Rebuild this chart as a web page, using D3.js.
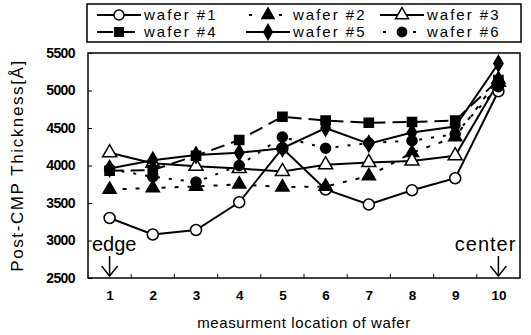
<!DOCTYPE html>
<html>
<head>
<meta charset="utf-8">
<script src="https://cdn.jsdelivr.net/npm/d3@7"></script>
<style>
  body { margin: 0; background: #fff; }
  svg { display: block; font-family: "Liberation Sans", Arial, sans-serif; }
</style>
</head>
<body>
<div id="chart"></div>
<script>
const locations = [1, 2, 3, 4, 5, 6, 7, 8, 9, 10];
const yTicks = [2500, 3000, 3500, 4000, 4500, 5000, 5500];

const wafer1 = [3300, 3080, 3140, 3510, 4230, 3680, 3480, 3670, 3830, 4990];
const wafer2 = [3680, 3700, 3720, 3750, 3710, 3720, 3860, 4170, 4380, 5150];
const wafer3 = [4170, 4030, 3990, 3960, 3920, 4010, 4040, 4060, 4130, 5110];
const wafer4 = [3930, 3940, 4130, 4340, 4650, 4600, 4570, 4580, 4600, 5140];
const wafer5 = [3960, 4070, 4140, 4170, 4230, 4500, 4290, 4440, 4520, 5360];
const wafer6 = [3950, 3850, 3780, 4000, 4380, 4230, 4300, 4330, 4420, 5050];
const seriesNames = ['wafer #1', 'wafer #2', 'wafer #3', 'wafer #4', 'wafer #5', 'wafer #6'];

const width = 531, height = 335;
const margin = {left: 88, right: 11, top: 53, bottom: 57};

const svg = d3.select('#chart').append('svg')
    .attr('width', width)
    .attr('height', height);

const x = d3.scaleLinear().domain([0.5, 10.5]).range([margin.left, width - margin.right]);
const y = d3.scaleLinear().domain([2500, 5500]).range([height - margin.bottom, margin.top]);

// look of each series: line dash, marker shape, fill
const styles = [
    {dash: null, shape: d3.symbolCircle, size: 95, fill: '#fff'},
    {dash: '4,9', shape: d3.symbolTriangle, size: 75, fill: '#000'},
    {dash: null, shape: d3.symbolTriangle, size: 85, fill: '#fff'},
    {dash: '14,7', shape: d3.symbolSquare, size: 85, fill: '#000'},
    {dash: null, shape: d3.symbolDiamond, size: 75, fill: '#000'},
    {dash: '3,9', shape: d3.symbolCircle, size: 80, fill: '#000'}
];
const series = [wafer1, wafer2, wafer3, wafer4, wafer5, wafer6].map((vals, i) => ({
    name: seriesNames[i],
    values: vals.map((v, j) => ({loc: locations[j], v: v})),
    style: styles[i]
}));

// frame
svg.append('rect')
    .attr('x', margin.left).attr('y', margin.top)
    .attr('width', width - margin.left - margin.right)
    .attr('height', height - margin.top - margin.bottom)
    .attr('fill', 'none').attr('stroke', '#000').attr('stroke-width', 1.5);

// y axis
const yAxis = d3.axisLeft(y).tickValues(yTicks).tickSize(-4).tickPadding(13).tickFormat(d3.format('d'));
const gy = svg.append('g').attr('transform', `translate(${margin.left},0)`).call(yAxis);
gy.select('.domain').remove();
gy.selectAll('text').attr('font-size', 14).attr('font-weight', 'bold').attr('letter-spacing', -0.6);

// x axis: labels at locations, tick marks between
const xAxis = d3.axisBottom(x).tickValues(locations).tickSize(0).tickPadding(12);
const gx = svg.append('g').attr('transform', `translate(0,${height - margin.bottom})`).call(xAxis);
gx.select('.domain').remove();
gx.selectAll('text').attr('font-size', 13.5).attr('font-weight', 'bold');
svg.append('g').selectAll('line')
    .data(d3.range(1.5, 10.5, 1))
    .enter().append('line')
    .attr('x1', d => x(d)).attr('x2', d => x(d))
    .attr('y1', height - margin.bottom).attr('y2', height - margin.bottom - 4)
    .attr('stroke', '#000');

// axis titles
svg.append('text')
    .attr('transform', `translate(23,${(margin.top + height - margin.bottom) / 2}) rotate(-90)`)
    .attr('text-anchor', 'middle')
    .attr('font-size', 17).attr('letter-spacing', 1.6)
    .text('Post-CMP Thickness[Å]');
svg.append('text')
    .attr('x', (margin.left + width - margin.right) / 2).attr('y', 328)
    .attr('text-anchor', 'middle')
    .attr('font-size', 15).attr('letter-spacing', 0.6)
    .text('measurment location of wafer');

// edge / center annotations
function arrow(xc) {
    svg.append('line').attr('x1', xc).attr('x2', xc).attr('y1', 256).attr('y2', 276)
        .attr('stroke', '#000').attr('stroke-width', 1.5);
    svg.append('path').attr('d', `M${xc - 8},${266} L${xc},${276} L${xc + 8},${266}`)
        .attr('fill', 'none').attr('stroke', '#000').attr('stroke-width', 1.5);
}
svg.append('text').attr('x', margin.left + 4).attr('y', 251).attr('font-size', 20).text('edge');
arrow(x(1));
svg.append('text').attr('x', x(10) + 18).attr('y', 251).attr('text-anchor', 'end')
    .attr('font-size', 20).attr('letter-spacing', 1).text('center');
arrow(x(10));

// lines
const line = d3.line().x(d => x(d.loc)).y(d => y(d.v));
svg.append('g').selectAll('path')
    .data(series)
    .enter().append('path')
    .attr('d', d => line(d.values))
    .attr('fill', 'none')
    .attr('stroke', '#000')
    .attr('stroke-width', 2)
    .attr('stroke-dasharray', d => d.style.dash);

// markers
series.forEach(s => {
    svg.append('g').selectAll('path')
        .data(s.values)
        .enter().append('path')
        .attr('transform', d => `translate(${x(d.loc)},${y(d.v)})`)
        .attr('d', d3.symbol().type(s.style.shape).size(s.style.size))
        .attr('fill', s.style.fill)
        .attr('stroke', '#000')
        .attr('stroke-width', 1.5);
});

// legend
const legend = svg.append('g');
legend.append('rect')
    .attr('x', 87).attr('y', 4).attr('width', 434).attr('height', 38)
    .attr('fill', '#fff').attr('stroke', '#000').attr('stroke-width', 1.5);
const legCols = [119, 268, 402];
const legRows = [15, 32];
series.forEach((s, i) => {
    const cx = legCols[i % 3];
    const cy = legRows[Math.floor(i / 3)];
    const g = legend.append('g').attr('transform', `translate(${cx},${cy})`);
    g.append('line').attr('x1', -22).attr('x2', 22).attr('y1', 0).attr('y2', 0)
        .attr('stroke', '#000').attr('stroke-width', 2)
        .attr('stroke-dasharray', s.style.dash ? (s.style.dash === '14,7' ? '16,6' : '3,12') : null)
        .attr('stroke-dashoffset', s.style.dash === '14,7' ? 0 : -3);
    g.append('path')
        .attr('d', d3.symbol().type(s.style.shape).size(s.style.size * 0.85))
        .attr('fill', s.style.fill).attr('stroke', '#000').attr('stroke-width', 1.5);
    g.append('text').attr('x', 25).attr('y', 5)
        .attr('font-size', 15).attr('letter-spacing', 2)
        .text(s.name);
});
</script>
</body>
</html>
